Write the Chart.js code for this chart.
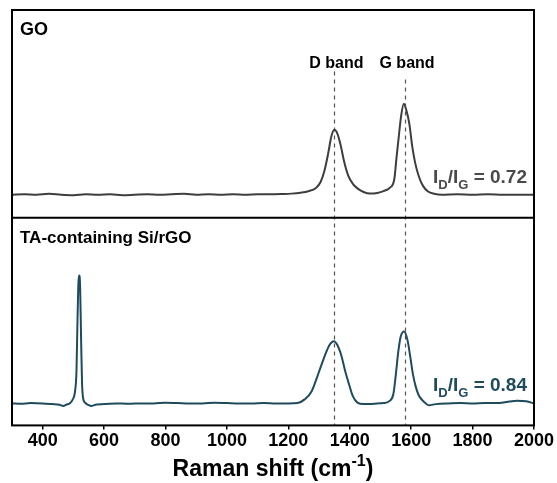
<!DOCTYPE html>
<html>
<head>
<meta charset="utf-8">
<script src="https://cdn.jsdelivr.net/npm/chart.js@4.4.1/dist/chart.umd.min.js"></script>
<style>
html, body { margin: 0; padding: 0; background: #fff; }
#wrap { width: 557px; height: 483px; position: relative; }
</style>
</head>
<body>
<div id="wrap"><canvas id="ramanChart"></canvas></div>
<script>
// GO spectrum (top panel)
var goShift = [300,340,380,420,460,500,540,580,620,660,700,740,780,820,860,900,940,980,1020,1060,1100,1140,1180,1210,1240,1265,1290,1305,1318,1330,1340,1350,1360,1370,1382,1395,1410,1425,1445,1465,1490,1510,1530,1545,1552,1559,1567,1576,1585,1594,1604,1613,1625,1638,1655,1675,1700,1750,1800,1850,1900,1950,2000];
var goIntensity = [0.0,0.005,0.0,0.01,0.0,-0.005,0.005,0.0,0.005,-0.005,0.0,0.005,0.0,0.005,0.01,0.0,0.005,0.0,0.005,0.0,0.005,0.005,0.008,0.012,0.022,0.038,0.075,0.14,0.27,0.46,0.64,0.714,0.67,0.55,0.36,0.21,0.12,0.07,0.03,0.012,0.02,0.04,0.075,0.17,0.40,0.62,0.86,1.0,0.92,0.78,0.52,0.35,0.20,0.10,0.035,0.01,0.0,0.005,0.0,0.005,0.0,0.0,0.0];

// TA-containing Si/rGO spectrum (bottom panel)
var siShift = [300,330,360,400,430,455,467,478,488,497,505,510,513,516,518,520,522,525,528,531,538,548,560,575,600,640,680,720,760,800,840,880,920,960,1000,1040,1080,1120,1160,1200,1230,1253,1276,1299,1322,1335,1348,1360,1373,1385,1398,1410,1425,1445,1465,1490,1510,1530,1542,1550,1558,1566,1577,1588,1597,1606,1615,1625,1640,1657,1680,1720,1760,1800,1840,1880,1910,1945,1975,2000];
var siIntensity = [0.0,-0.005,0.005,0.0,-0.01,-0.02,-0.035,-0.015,0.0,0.05,0.16,0.45,1.1,1.65,1.78,1.77,1.6,0.9,0.3,0.09,0.01,-0.02,-0.035,-0.015,-0.01,0.0,-0.005,0.0,0.0,0.01,0.005,0.0,0.0,0.01,0.005,0.0,0.0,0.005,0.0,0.0,0.005,0.056,0.17,0.43,0.70,0.82,0.866,0.81,0.66,0.45,0.26,0.10,0.01,-0.01,-0.01,0.0,0.005,0.035,0.13,0.40,0.72,0.93,1.0,0.88,0.65,0.40,0.23,0.11,0.03,-0.025,-0.01,0.0,0.005,0.0,0.005,0.005,0.02,0.037,0.03,0.0];

var xTickValues = [400,600,800,1000,1200,1400,1600,1800,2000];
var bandNames = ["D band", "G band"];
var bandPositions = [1350, 1580];
var panelNames = ["GO", "TA-containing Si/rGO"];
var ratioValues = ["0.72", "0.84"];

var fontFam = "'Liberation Sans', Arial, Helvetica, sans-serif";
var goColor = "#3e3e3e";
var siColor = "#1e4b5e";

function toPoints(xs, ys) {
  var pts = [];
  for (var i = 0; i < xs.length; i++) pts.push({x: xs[i], y: ys[i]});
  return pts;
}

function drawRatio(ctx, rightX, baseY, value, color) {
  var big = "bold 19px " + fontFam;
  var small = "bold 13px " + fontFam;
  var parts = [["I", big, 0], ["D", small, 6], ["/I", big, 0], ["G", small, 6], [" = " + value, big, 0]];
  var total = 0;
  parts.forEach(function (p) { ctx.font = p[1]; total += ctx.measureText(p[0]).width; });
  var x = rightX - total;
  ctx.fillStyle = color;
  ctx.textAlign = "left";
  ctx.textBaseline = "alphabetic";
  parts.forEach(function (p) {
    ctx.font = p[1];
    ctx.fillText(p[0], x, baseY + p[2]);
    x += ctx.measureText(p[0]).width;
  });
}

var decorPlugin = {
  id: 'decor',
  beforeDatasetsDraw: function (chart) {
    var ctx = chart.ctx, xs = chart.scales.x, area = chart.chartArea;
    var yTop = chart.scales.yTop;
    var labelY = yTop.getPixelForValue(1.4);
    ctx.save();
    ctx.strokeStyle = "#555";
    ctx.lineWidth = 1.2;
    ctx.setLineDash([4, 4]);
    bandPositions.forEach(function (b, i) {
      var px = Math.round(xs.getPixelForValue(b)) + 0.5;
      ctx.beginPath();
      ctx.moveTo(px, labelY + (i === 0 ? 4 : 12));
      ctx.lineTo(px, area.bottom);
      ctx.stroke();
    });
    ctx.restore();
  },
  afterDraw: function (chart) {
    var ctx = chart.ctx, xs = chart.scales.x, area = chart.chartArea;
    var yTop = chart.scales.yTop, yBot = chart.scales.yBot;
    ctx.save();
    // frame and divider
    ctx.strokeStyle = "#000";
    ctx.lineWidth = 2;
    ctx.strokeRect(area.left, area.top, area.right - area.left, area.bottom - area.top);
    ctx.beginPath();
    ctx.moveTo(area.left, yTop.bottom);
    ctx.lineTo(area.right, yTop.bottom);
    ctx.stroke();

    // band labels
    var labelY = yTop.getPixelForValue(1.4);
    ctx.fillStyle = "#000";
    ctx.font = "bold 16px " + fontFam;
    ctx.textAlign = "center";
    ctx.textBaseline = "alphabetic";
    bandPositions.forEach(function (b, i) {
      ctx.fillText(bandNames[i], xs.getPixelForValue(b) + 2, labelY);
    });

    // panel names
    ctx.textAlign = "left";
    ctx.font = "bold 18px " + fontFam;
    ctx.fillText(panelNames[0], area.left + 8, yTop.top + 25);
    ctx.font = "bold 17px " + fontFam;
    ctx.fillText(panelNames[1], area.left + 8, yBot.top + 25);

    // ratios
    drawRatio(ctx, area.right - 7, yTop.bottom - 35, ratioValues[0], "#4a4a4a");
    drawRatio(ctx, area.right - 7, yBot.bottom - 34, ratioValues[1], siColor);

    // x axis title with superscript
    var cx = (area.left + area.right) / 2;
    var ty = area.bottom + 51;
    var t1 = "Raman shift (cm", t2 = "-1", t3 = ")";
    ctx.font = "bold 23px " + fontFam;
    var w1 = ctx.measureText(t1).width, w3 = ctx.measureText(t3).width;
    ctx.font = "bold 16px " + fontFam;
    var w2 = ctx.measureText(t2).width;
    var x0 = cx - (w1 + w2 + w3) / 2;
    ctx.fillStyle = "#000";
    ctx.font = "bold 23px " + fontFam;
    ctx.fillText(t1, x0, ty);
    ctx.font = "bold 16px " + fontFam;
    ctx.fillText(t2, x0 + w1, ty - 10);
    ctx.font = "bold 23px " + fontFam;
    ctx.fillText(t3, x0 + w1 + w2, ty);
    ctx.restore();
  }
};

var hiddenAxis = {
  ticks: { display: false },
  grid: { display: false, drawTicks: false, tickLength: 0 },
  border: { display: false }
};

new Chart(document.getElementById('ramanChart').getContext('2d'), {
  type: 'line',
  data: {
    datasets: [
      {
        label: panelNames[0],
        data: toPoints(goShift, goIntensity),
        yAxisID: 'yTop',
        borderColor: goColor,
        borderWidth: 2,
        pointRadius: 0,
        fill: false,
        cubicInterpolationMode: 'monotone'
      },
      {
        label: panelNames[1],
        data: toPoints(siShift, siIntensity),
        yAxisID: 'yBot',
        borderColor: siColor,
        borderWidth: 2,
        pointRadius: 0,
        fill: false,
        cubicInterpolationMode: 'monotone'
      }
    ]
  },
  options: {
    responsive: true,
    maintainAspectRatio: false,
    animation: false,
    devicePixelRatio: 1,
    layout: { padding: { left: 12, right: 23, top: 10, bottom: 30 } },
    plugins: { legend: { display: false }, tooltip: { enabled: false } },
    scales: {
      x: {
        type: 'linear',
        min: 300,
        max: 2000,
        afterBuildTicks: function (scale) {
          scale.ticks = xTickValues.map(function (v) { return {value: v}; });
        },
        ticks: {
          color: '#000',
          padding: 1,
          maxRotation: 0,
          autoSkip: false,
          font: { family: fontFam, size: 18, weight: 'bold' },
          callback: function (v) { return String(v); }
        },
        grid: { drawOnChartArea: false, drawTicks: true, tickLength: 4, color: '#000', lineWidth: 1.5 },
        border: { display: false }
      },
      // listed bottom first: left-side stacked axes are placed in reverse order
      yBot: Object.assign({
        type: 'linear',
        position: 'left',
        stack: 'panels',
        stackWeight: 1,
        min: -0.306,
        max: 2.583
      }, hiddenAxis),
      yTop: Object.assign({
        type: 'linear',
        position: 'left',
        stack: 'panels',
        stackWeight: 1,
        min: -0.253,
        max: 2.033
      }, hiddenAxis)
    }
  },
  plugins: [decorPlugin]
});
</script>
</body>
</html>
